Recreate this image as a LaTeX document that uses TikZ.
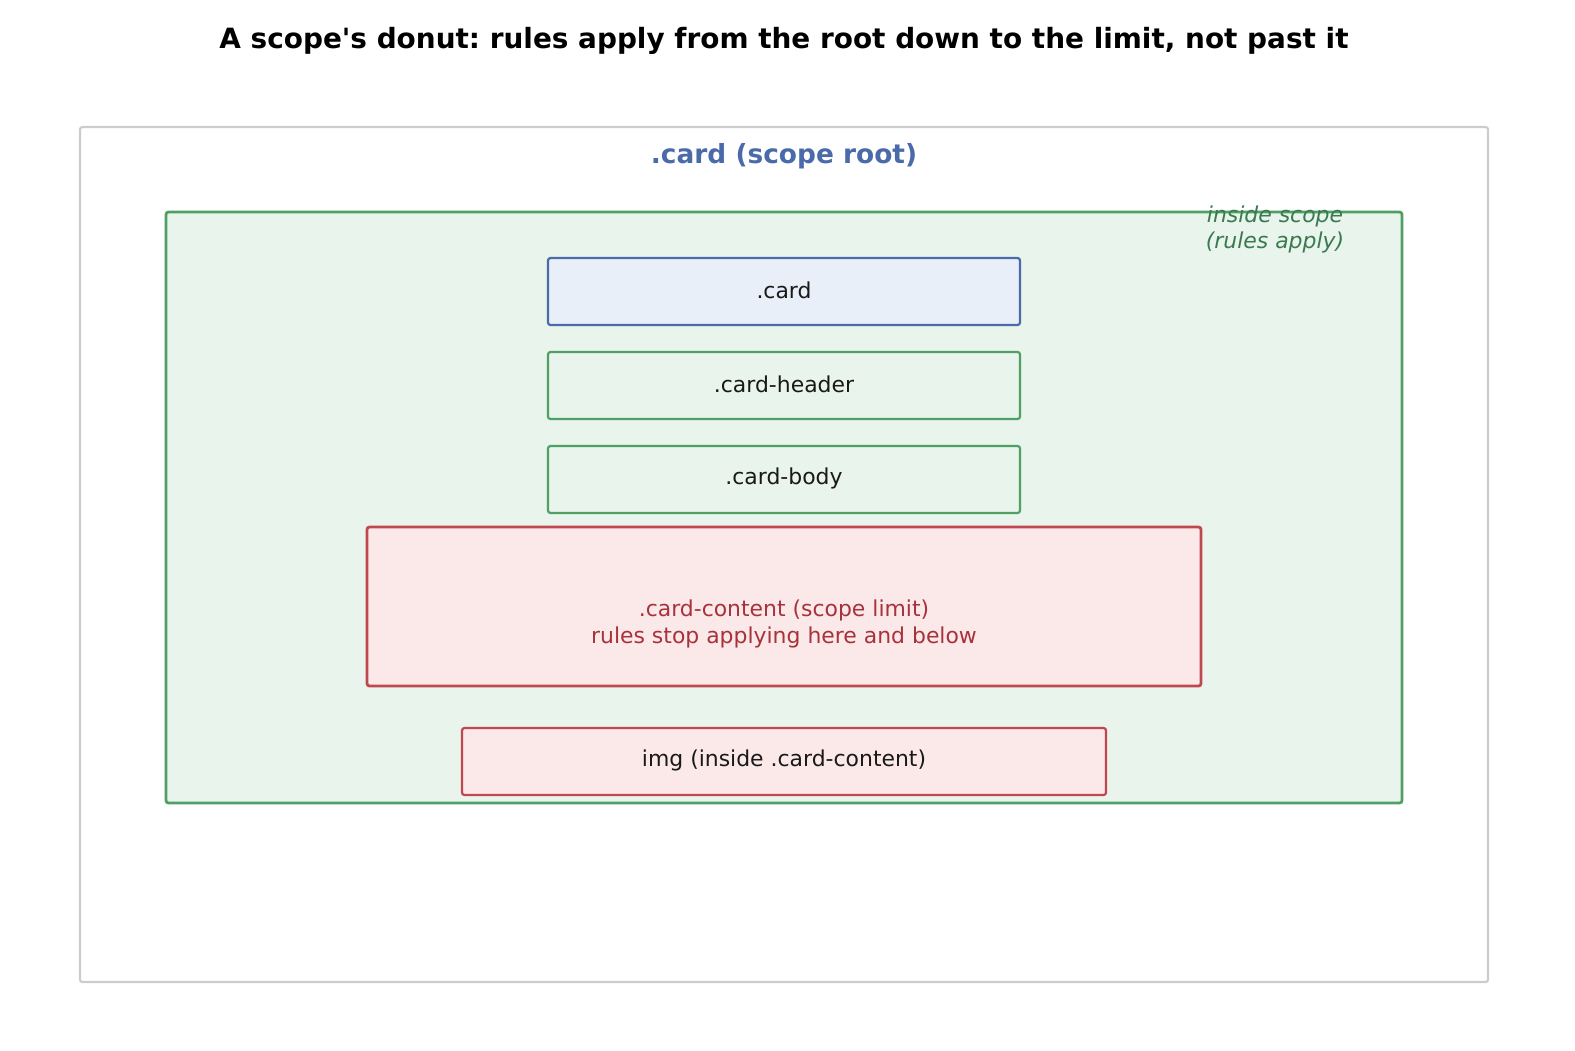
\documentclass[tikz,border=0pt]{standalone}
\usepackage{fontspec}
\setmainfont[Ligatures=NoCommon,Mapping=]{DejaVu Sans}
\frenchspacing
\definecolor{frameGray}{HTML}{CCCCCC}
\definecolor{scopeGreen}{HTML}{4FA064}
\definecolor{scopeFill}{HTML}{E9F4EC}
\definecolor{rootBlue}{HTML}{4A6AAA}
\definecolor{rootFill}{HTML}{E9EFF8}
\definecolor{limitRed}{HTML}{C0474F}
\definecolor{limitFill}{HTML}{FBE8E9}
\definecolor{limitText}{HTML}{A8323C}
\definecolor{noteGreen}{HTML}{3A7A50}
\tikzset{
  box/.style={draw, rounded corners=2.5bp, line width=2.2bp, inner sep=0pt},
  lbl/.style={font=\fontsize{22}{27}\selectfont, text=black!90, align=center},
}
\begin{document}
\begin{tikzpicture}[x=1bp,y=-1bp]
        \useasboundingbox (0,0) rectangle (1575,1050);
        %%%%%%% Frames %%%%%%%%
        \draw[frameGray, line width=2.2bp, rounded corners=2.5bp] (80,127) rectangle (1488,982);
        \draw[box, scopeGreen, fill=scopeFill, line width=2.8bp] (166,212) rectangle (1402,803);

        %%%%%%% Titles %%%%%%%%
        \node[font=\fontsize{28}{32}\selectfont\bfseries] (title) at (784,41) {A scope's donut: rules apply from the root down to the limit, not past it};
        \node[font=\fontsize{26.5}{31}\selectfont\bfseries, text=rootBlue] (root) at (784,156) {.card (scope root)};
        \node[font=\fontsize{22}{26}\selectfont\itshape, text=noteGreen, align=center] (note) at (1275,229) {inside scope\\(rules apply)};

        %%%%%%% Boxes %%%%%%%%
        \draw[box, rootBlue, fill=rootFill] (548,258) rectangle (1020,325);
        \draw[box, scopeGreen, fill=scopeFill] (548,352) rectangle (1020,419);
        \draw[box, scopeGreen, fill=scopeFill] (548,446) rectangle (1020,513);
        \draw[box, limitRed, fill=limitFill, line width=2.8bp] (367,527) rectangle (1201,686);
        \draw[box, limitRed, fill=limitFill] (462,728) rectangle (1106,795);

        %%%%%%% Labels %%%%%%%%
        \node[lbl] (card) at (784,290) {.card};
        \node[lbl] (header) at (784,384) {.card-header};
        \node[lbl] (body) at (784,478) {.card-body};
        \node[lbl, text=limitText] (content) at (784,624) {.card-content (scope limit)\\rules stop applying here and below};
        \node[lbl] (img) at (784,760) {img (inside .card-content)};
\end{tikzpicture}
\end{document}
